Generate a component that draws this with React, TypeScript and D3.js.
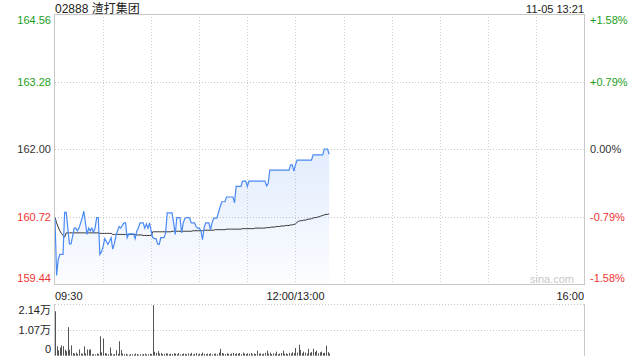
import React from "react";
import * as d3 from "d3";

const title = "02888 渣打集团";
const stamp = "11-05 13:21";
const prevClose = 162.0;
const priceTicks = [164.56, 163.28, 162.0, 160.72, 159.44];
const pctTicks = ["+1.58%", "+0.79%", "0.00%", "-0.79%", "-1.58%"];
const timeLabels = ["09:30", "12:00/13:00", "16:00"];
const volTicks = [21400, 10700, 0];
const volTickLabels = ["2.14万", "1.07万", "0"];
const totalMinutes = 330;

const prices = [
  160.68, 159.6, 159.9, 160.0, 160.0, 160.0, 160.8, 160.8, 160.5, 160.2,
  160.2, 160.35, 160.5, 160.5, 160.45, 160.5, 160.6, 160.7, 160.82, 160.6,
  160.38, 160.5, 160.45, 160.5, 160.42, 160.5, 160.7, 160.7, 160.0, 160.05,
  160.15, 160.3, 160.25, 160.19, 160.25, 160.32, 160.1, 160.2, 160.35, 160.45,
  160.53, 160.5, 160.55, 160.6, 160.6, 160.32, 160.39, 160.39, 160.39, 160.39,
  160.3, 160.44, 160.5, 160.6, 160.6, 160.6, 160.5, 160.58, 160.5, 160.6,
  160.44, 160.32, 160.3, 160.3, 160.2, 160.19, 160.32, 160.32, 160.32, 160.41,
  160.79, 160.79, 160.79, 160.79, 160.6, 160.38, 160.7, 160.7, 160.7, 160.41,
  160.6, 160.68, 160.7, 160.7, 160.69, 160.6, 160.6, 160.6, 160.53, 160.5,
  160.5, 160.45, 160.28, 160.5, 160.6, 160.6, 160.6, 160.47, 160.6, 160.69,
  160.69, 160.69, 160.8, 160.9, 161.0, 161.0, 161.0, 161.09, 161.09, 161.09,
  161.09, 161.09, 160.98, 161.29, 161.29, 161.29, 161.29, 161.39, 161.39, 161.39,
  161.29, 161.39, 161.39, 161.39, 161.39, 161.39, 161.39, 161.39, 161.39, 161.39,
  161.39, 161.39, 161.3, 161.35, 161.6, 161.6, 161.6, 161.6, 161.6, 161.6,
  161.6, 161.6, 161.6, 161.6, 161.6, 161.6, 161.6, 161.7, 161.7, 161.58,
  161.7, 161.79, 161.79, 161.79, 161.79, 161.79, 161.79, 161.79, 161.79, 161.79,
  161.79, 161.89, 161.89, 161.89, 161.89, 161.89, 161.89, 161.89, 162.0, 162.0,
  162.0, 161.9,
];

const avgPrices = [
  160.7, 160.6, 160.52, 160.45, 160.4, 160.36, 160.33, 160.41, 160.41, 160.41,
  160.41, 160.41, 160.41, 160.41, 160.41, 160.41, 160.41, 160.41, 160.41, 160.41,
  160.41, 160.41, 160.41, 160.41, 160.41, 160.41, 160.41, 160.41, 160.4, 160.4,
  160.4, 160.4, 160.4, 160.4, 160.4, 160.4, 160.38, 160.38, 160.38, 160.38,
  160.38, 160.38, 160.38, 160.38, 160.38, 160.38, 160.38, 160.38, 160.38, 160.38,
  160.38, 160.37, 160.37, 160.37, 160.37, 160.36, 160.36, 160.36, 160.36, 160.36,
  160.36, 160.43, 160.43, 160.43, 160.43, 160.43, 160.43, 160.43, 160.43, 160.43,
  160.43, 160.43, 160.43, 160.44, 160.44, 160.44, 160.44, 160.44, 160.44, 160.44,
  160.44, 160.44, 160.44, 160.44, 160.44, 160.44, 160.45, 160.45, 160.45, 160.45,
  160.45, 160.45, 160.45, 160.46, 160.46, 160.46, 160.46, 160.46, 160.46, 160.46,
  160.47, 160.47, 160.47, 160.47, 160.47, 160.47, 160.47, 160.48, 160.48, 160.48,
  160.48, 160.48, 160.48, 160.48, 160.48, 160.48, 160.48, 160.49, 160.49, 160.49,
  160.49, 160.49, 160.49, 160.49, 160.49, 160.5, 160.5, 160.5, 160.5, 160.5,
  160.5, 160.5, 160.51, 160.51, 160.51, 160.52, 160.52, 160.52, 160.53, 160.53,
  160.53, 160.54, 160.54, 160.54, 160.55, 160.55, 160.55, 160.56, 160.56, 160.57,
  160.58, 160.61, 160.63, 160.64, 160.64, 160.65, 160.65, 160.66, 160.67, 160.67,
  160.68, 160.69, 160.7, 160.7, 160.71, 160.72, 160.73, 160.74, 160.75, 160.76,
  160.76, 160.77,
];

const volumes = [
  18500, 3900, 2200, 3400, 4300, 4000, 2500, 1900, 11900, 2500,
  4300, 1100, 900, 1300, 700, 2600, 900, 800, 3900, 1000,
  2600, 2500, 2600, 600, 700, 500, 900, 700, 8100, 1400,
  7200, 1100, 900, 600, 3400, 900, 500, 700, 2300, 800,
  6000, 2400, 900, 600, 800, 500, 400, 700, 600, 500,
  900, 700, 400, 600, 500, 700, 900, 500, 600, 800,
  700, 21000, 1600, 1200, 1900, 900, 1100, 700, 800, 1000,
  900, 600, 800, 700, 1000, 900, 600, 1100, 500, 700,
  900, 800, 600, 1000, 700, 1200, 500, 800, 1100, 600,
  900, 700, 1300, 800, 600, 900, 700, 1000, 500, 800,
  900, 600, 1300, 2900, 1100, 900, 700, 1000, 800, 600,
  900, 1200, 700, 1000, 800, 1100, 600, 1300, 900, 700,
  1000, 800, 1100, 600, 900, 700, 2100, 800, 1000, 600,
  900, 1200, 2100, 900, 1300, 700, 1000, 800, 1700, 600,
  900, 1100, 2100, 800, 1000, 700, 1200, 900, 1400, 1100,
  3200, 1300, 4600, 2400, 1000, 1700, 1300, 900, 2900, 1200,
  1500, 2900, 1600, 2100, 1000, 1400, 1700, 1100, 1200, 4200,
  1500, 900,
];

const GREEN = "#1a9e1a";
const RED = "#ee3333";
const BLUE = "#4a8af4";
const FONT = "'Liberation Sans', Arial, 'Noto Sans CJK SC', sans-serif";

export default function App() {
  const L = 55, R = 584, T = 14, B = 284;
  const VT = 304.3, VB = 355.7;
  const x = d3.scaleLinear().domain([0, totalMinutes]).range([L, R]);
  const y = d3.scaleLinear().domain([159.44, 164.56]).range([B, T]);
  const vy = d3.scaleLinear().domain([0, 21400]).range([VB, VT]);

  const line = d3.line<number>().x((_, i) => x(i)).y((d) => y(d));
  const area = d3.area<number>().x((_, i) => x(i)).y0(B).y1((d) => y(d));

  const vGrid = d3.range(1, 11).map((i) => x(i * 30));
  const colorFor = (i: number) => (i < 2 ? GREEN : i === 2 ? "#333" : RED);
  const labelDy = (i: number) => (i === 0 ? 10 : i === 4 ? -2 : 4);

  return (
    <svg width={640} height={360} style={{ position: "absolute", left: 0, top: 0, background: "#fff" }} fontFamily={FONT}>
      <defs>
        <linearGradient id="fillg" gradientUnits="userSpaceOnUse" x1={0} y1={y(162)} x2={0} y2={B}>
          <stop offset="0" stopColor={BLUE} stopOpacity={0.16} />
          <stop offset="1" stopColor={BLUE} stopOpacity={0.02} />
        </linearGradient>
      </defs>
      <text x={L} y={13} fontSize={12} fill="#222">{title}</text>
      <text x={R} y={13} fontSize={11} fill="#222" textAnchor="end">{stamp}</text>

      {vGrid.map((gx, i) => (
        <line key={"vg" + i} x1={Math.round(gx) + 0.5} x2={Math.round(gx) + 0.5} y1={T} y2={B} stroke="#d0d0d0" strokeDasharray="1,2" />
      ))}
      {priceTicks.slice(1, 4).map((p, i) => (
        <line key={"hg" + i} x1={L} x2={R} y1={Math.round(y(p)) + 0.5} y2={Math.round(y(p)) + 0.5} stroke="#c8c8c8" strokeDasharray="1,2" />
      ))}

      <path d={area(prices) || ""} fill="url(#fillg)" />
      <path d={line(avgPrices) || ""} fill="none" stroke="#333" strokeWidth={1} />
      <path d={line(prices) || ""} fill="none" stroke={BLUE} strokeWidth={1.2} />

      <rect x={L - 0.5} y={T + 0.5} width={R - L + 1} height={B - T} fill="none" stroke="#c8c8c8" />

      {priceTicks.map((p, i) => (
        <text key={"pl" + i} x={51} y={y(p) + labelDy(i)} fontSize={11} textAnchor="end" fill={colorFor(i)}>
          {p.toFixed(2)}
        </text>
      ))}
      {pctTicks.map((s, i) => (
        <text key={"pr" + i} x={590} y={y(priceTicks[i]) + labelDy(i)} fontSize={11} fill={colorFor(i)}>
          {s}
        </text>
      ))}
      <text x={574} y={283} fontSize={11} fill="#c8c8c8" textAnchor="end">sina.com</text>

      <text x={L} y={300} fontSize={11} fill="#222">{timeLabels[0]}</text>
      <text x={x(150)} y={300} fontSize={11} fill="#222" textAnchor="middle">{timeLabels[1]}</text>
      <text x={R} y={300} fontSize={11} fill="#222" textAnchor="end">{timeLabels[2]}</text>

      {volTicks.slice(0, 2).map((v, i) => (
        <line key={"vgl" + i} x1={L} x2={R} y1={Math.round(vy(v)) + 0.5} y2={Math.round(vy(v)) + 0.5} stroke="#c8c8c8" strokeDasharray="1,2" />
      ))}
      <line x1={L - 0.5} x2={L - 0.5} y1={VT} y2={VB} stroke="#c8c8c8" />
      <line x1={R + 0.5} x2={R + 0.5} y1={VT} y2={VB} stroke="#c8c8c8" />
      {volumes.map((v, i) => (
        <line key={"vb" + i} x1={Math.round(x(i)) + 0.5} x2={Math.round(x(i)) + 0.5} y1={VB} y2={vy(v)} stroke="#555" strokeWidth={1} />
      ))}
      {volTickLabels.map((s, i) => (
        <text key={"vl" + i} x={51} y={vy(volTicks[i]) + (i === 0 ? 10 : i === 2 ? -3 : 4)} fontSize={11} textAnchor="end" fill="#222">
          {s}
        </text>
      ))}
    </svg>
  );
}
